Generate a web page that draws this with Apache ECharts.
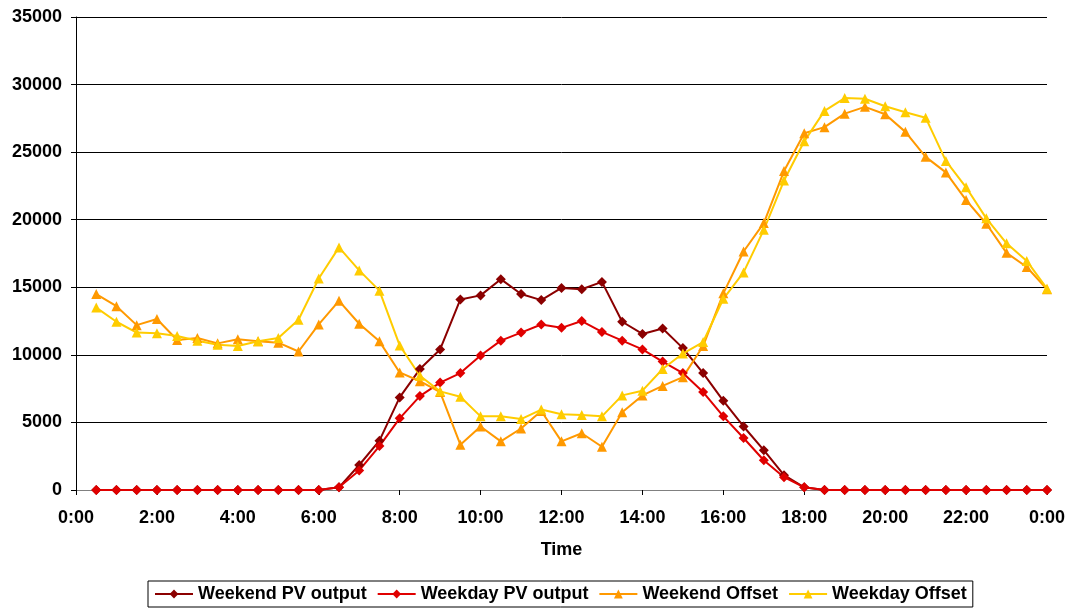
<!DOCTYPE html>
<html>
<head>
<meta charset="utf-8">
<script src="https://cdn.jsdelivr.net/npm/echarts@6/dist/echarts.min.js"></script>
<style>
  html, body { margin: 0; padding: 0; background: #fff; }
  #chart { width: 1072px; height: 610px; }
</style>
</head>
<body>
<div id="chart"></div>
<script>
// Axis positions: the axis starts at 0:00, data points at 0:30 ... 0:00 (next day)
var axisStart = "0:00";
var categories = [
  "0:30","1:00","1:30","2:00","2:30","3:00","3:30","4:00","4:30","5:00","5:30","6:00",
  "6:30","7:00","7:30","8:00","8:30","9:00","9:30","10:00","10:30","11:00","11:30","12:00",
  "12:30","13:00","13:30","14:00","14:30","15:00","15:30","16:00","16:30","17:00","17:30","18:00",
  "18:30","19:00","19:30","20:00","20:30","21:00","21:30","22:00","22:30","23:00","23:30","0:00"
];
var yTicks = [0, 5000, 10000, 15000, 20000, 25000, 30000, 35000];

var weekendPV = [
  0,0,0,0,0,0,0,0,0,0,0,0,
  200,1850,3650,6850,8950,10400,14100,14400,15600,14500,14050,14950,
  14850,15400,12450,11550,11950,10500,8650,6600,4700,2950,1100,200,
  0,0,0,0,0,0,0,0,0,0,0,0
];
var weekdayPV = [
  0,0,0,0,0,0,0,0,0,0,0,0,
  200,1450,3250,5300,6950,7950,8650,9950,11050,11650,12250,12000,
  12500,11700,11050,10400,9500,8650,7250,5450,3850,2200,950,200,
  0,0,0,0,0,0,0,0,0,0,0,0
];
var weekendOffset = [
  14500,13600,12200,12650,11100,11250,10850,11150,11000,10900,10250,12250,
  14000,12300,11000,8700,8050,7250,3350,4700,3600,4550,5850,3600,
  4200,3200,5750,7000,7700,8350,10650,14550,17650,19750,23600,26400,
  26850,27850,28350,27800,26500,24650,23500,21450,19700,17550,16500,14850
];
var weekdayOffset = [
  13500,12450,11650,11600,11400,11050,10750,10650,11000,11250,12600,15650,
  17950,16250,14750,10700,8450,7300,6900,5450,5450,5250,5950,5600,
  5550,5450,7000,7350,8950,10100,10950,14150,16100,19250,22900,25800,
  28050,29000,28950,28400,27950,27550,24350,22400,20100,18250,16950,14900
];

var FONT = "'Liberation Sans', Arial, sans-serif";
var chart = echarts.init(document.getElementById('chart'), null, { renderer: 'canvas' });

function mk(name, values, color, symbol, size) {
  return {
    name: name,
    type: 'line',
    data: [null].concat(values),
    symbol: symbol,
    symbolSize: size,
    showSymbol: true,
    connectNulls: false,
    lineStyle: { color: color, width: 2 },
    itemStyle: { color: color },
    emphasis: { disabled: true }
  };
}

chart.setOption({
  animation: false,
  backgroundColor: '#ffffff',
  grid: { left: 76, right: 25, top: 17, bottom: 120, containLabel: false },
  xAxis: {
    type: 'category',
    data: [axisStart].concat(categories),
    boundaryGap: false,
    name: 'Time',
    nameLocation: 'middle',
    nameGap: 51,
    nameTextStyle: { fontFamily: FONT, fontWeight: 'bold', fontSize: 18, color: '#000' },
    axisLine: { show: true, lineStyle: { color: '#808080', width: 1 } },
    axisTick: { show: true, interval: 3, length: 5, inside: false, lineStyle: { color: '#000' } },
    axisLabel: { interval: 3, margin: 19, fontFamily: FONT, fontWeight: 'bold', fontSize: 18, color: '#000' },
    splitLine: { show: false }
  },
  yAxis: {
    type: 'value',
    min: yTicks[0],
    max: yTicks[yTicks.length - 1],
    interval: yTicks[1] - yTicks[0],
    axisLine: { show: true, lineStyle: { color: '#000', width: 1 } },
    axisTick: { show: true, length: 5, inside: false, lineStyle: { color: '#000' } },
    axisLabel: {
      margin: 14, fontFamily: FONT, fontWeight: 'bold', fontSize: 18, color: '#000',
      formatter: function (v) { return String(v); }
    },
    splitLine: { show: true, lineStyle: { color: '#000', width: 1 } }
  },
  legend: {
    bottom: 3,
    left: 148,
    orient: 'horizontal',
    borderColor: '#000',
    borderWidth: 1,
    padding: [4, 6],
    itemGap: 10,
    itemWidth: 38,
    itemHeight: 11,
    textStyle: { fontFamily: FONT, fontWeight: 'bold', fontSize: 18, color: '#000' },
    data: ['Weekend PV output', 'Weekday PV output', 'Weekend Offset', 'Weekday Offset']
  },
  series: [
    mk('Weekend PV output', weekendPV, '#8B0000', 'diamond', 10),
    mk('Weekday PV output', weekdayPV, '#E00000', 'diamond', 10),
    mk('Weekend Offset', weekendOffset, '#FF9900', 'triangle', 10),
    mk('Weekday Offset', weekdayOffset, '#FFCC00', 'triangle', 10)
  ]
});
</script>
</body>
</html>
